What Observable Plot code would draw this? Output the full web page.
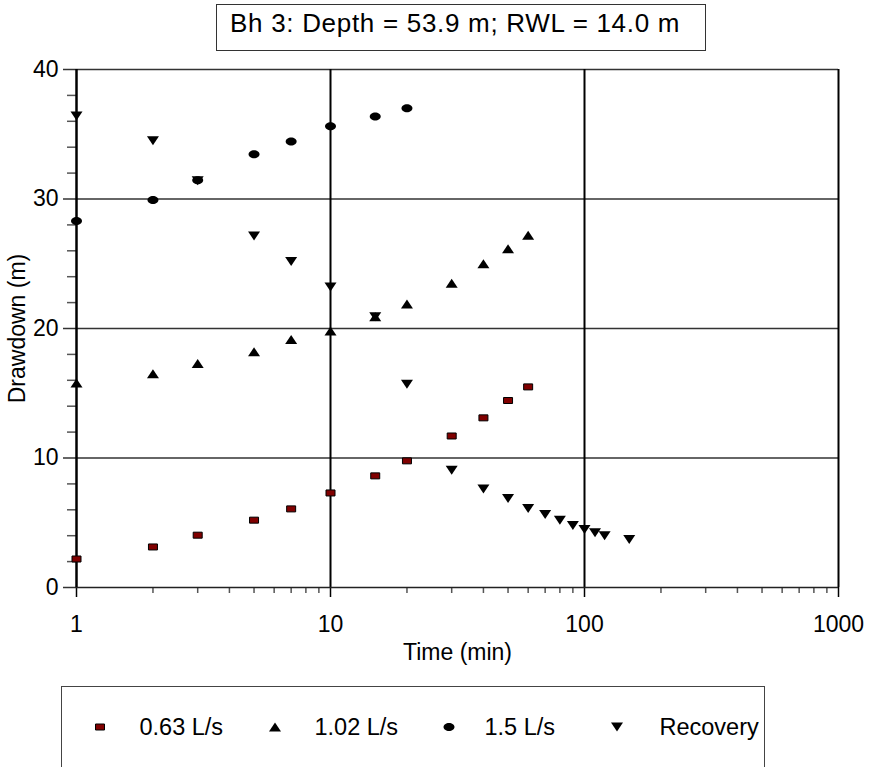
<!DOCTYPE html>
<html>
<head>
<meta charset="utf-8">
<script src="https://cdn.jsdelivr.net/npm/d3@7"></script>
<script src="https://cdn.jsdelivr.net/npm/@observablehq/plot@0.6"></script>
<style>
  html, body { margin: 0; padding: 0; background: white; }
  #wrap { position: relative; width: 869px; height: 767px; overflow: hidden; background: white;
          font-family: "Liberation Sans", Arial, Helvetica, sans-serif; color: black; }
  #title { position: absolute; left: 216px; top: 4px; width: 488px; height: 45px;
           border: 1px solid #333; box-sizing: content-box; }
  #title span { position: absolute; left: 13px; top: 5px; text-align: left;
                font-size: 26px; line-height: 26px; letter-spacing: 0.7px; white-space: nowrap; }
  #legend { position: absolute; left: 61px; top: 686px; width: 702px; height: 100px;
            border: 1.5px solid #444; }
  .lg-text { position: absolute; font-size: 23.5px; line-height: 23.5px; white-space: nowrap; }
  .lg-mark { position: absolute; width: 16px; height: 16px; }
  #chart { position: absolute; left: 0; top: 0; }
</style>
</head>
<body>
<div id="wrap">
  <div id="chart"></div>
  <div id="title"><span></span></div>
  <div id="legend"></div>
</div>
<script>
// ---- data ----
const titleText = "Bh 3: Depth = 53.9 m; RWL = 14.0 m";
const xLabel = "Time (min)";
const yLabel = "Drawdown (m)";

const seriesNames = ["0.63 L/s", "1.02 L/s", "1.5 L/s", "Recovery"];

const timesA = [1, 2, 3, 5, 7, 10, 15, 20, 30, 40, 50, 60];
const flow063 = [2.2, 3.13, 4.04, 5.2, 6.07, 7.3, 8.62, 9.78, 11.7, 13.1, 14.44, 15.49];

const timesB = [1, 2, 3, 5, 7, 10, 15, 20, 30, 40, 50, 60];
const flow102 = [15.8, 16.5, 17.3, 18.2, 19.15, 19.8, 20.9, 21.9, 23.5, 25.0, 26.15, 27.2];

const timesC = [1, 2, 3, 5, 7, 10, 15, 20];
const flow15 = [28.3, 29.93, 31.45, 33.46, 34.44, 35.62, 36.37, 37.0];

const timesR = [1, 2, 3, 5, 7, 10, 15, 20, 30, 40, 50, 60, 70, 80, 90, 100, 110, 120, 150];
const recovery = [36.4, 34.5, 31.4, 27.15, 25.17, 23.2, 20.9, 15.7, 9.06, 7.6, 6.87, 6.1, 5.64, 5.2, 4.79, 4.48, 4.22, 4.0, 3.7];

const xMajorTicks = [1, 10, 100, 1000];
const xMinorTicks = [2,3,4,5,6,7,8,9,20,30,40,50,60,70,80,90,200,300,400,500,600,700,800,900];
const yMajorTicks = [0, 10, 20, 30, 40];
const yMinorTicks = [2,4,6,8,12,14,16,18,22,24,26,28,32,34,36,38];
const xGrid = [10, 100, 1000];
const yGrid = [10, 20, 30, 40];

// ---- symbols ----
const K = 0.5523;
const rectSym = {draw(c) { c.moveTo(-4.5, -3); c.lineTo(4.5, -3); c.lineTo(4.5, 3); c.lineTo(-4.5, 3); c.closePath(); }};
const ellipseSym = {draw(c) {
  const rx = 5.5, ry = 4;
  c.moveTo(rx, 0);
  c.bezierCurveTo(rx, K*ry, K*rx, ry, 0, ry);
  c.bezierCurveTo(-K*rx, ry, -rx, K*ry, -rx, 0);
  c.bezierCurveTo(-rx, -K*ry, -K*rx, -ry, 0, -ry);
  c.bezierCurveTo(K*rx, -ry, rx, -K*ry, rx, 0);
  c.closePath();
}};
const triUp = {draw(c) { c.moveTo(0, -4.5); c.lineTo(6, 4.5); c.lineTo(-6, 4.5); c.closePath(); }};
const triDown = {draw(c) { c.moveTo(0, 4.5); c.lineTo(6, -4.5); c.lineTo(-6, -4.5); c.closePath(); }};

const rows = (ts, vs) => ts.map((t, i) => ({t, v: vs[i]}));

const font = '"Liberation Sans", Arial, Helvetica, sans-serif';

const plot = Plot.plot({
  width: 869,
  height: 680,
  marginTop: 69,
  marginLeft: 76,
  marginRight: 31,
  marginBottom: 93,
  x: {type: "log", domain: [1, 1000]},
  y: {domain: [0, 40]},
  style: {fontFamily: font, fontSize: "23px", background: "transparent", color: "black"},
  marks: [
    Plot.ruleY(yGrid, {stroke: "#333", strokeWidth: 1.5}),
    Plot.ruleX(xGrid, {stroke: "#000", strokeWidth: 2}),
    Plot.axisY({ticks: yMinorTicks, tickSize: 9, text: null, stroke: "#555", strokeWidth: 1.5, label: null}),
    Plot.axisY({ticks: yMajorTicks, tickSize: 13, tickPadding: 5, stroke: "#333", strokeWidth: 1.5,
                fontSize: 23, label: yLabel, labelAnchor: "center", labelOffset: 68, labelArrow: "none"}),
    Plot.axisX({ticks: xMinorTicks, tickSize: 6, text: null, stroke: "#555", strokeWidth: 1.5, label: null}),
    Plot.axisX({ticks: xMajorTicks, tickSize: 10, tickPadding: 18, stroke: "#000", strokeWidth: 1.5,
                tickFormat: d => String(d), fontSize: 23,
                label: xLabel, labelAnchor: "center", labelOffset: 72, labelArrow: "none"}),
    Plot.ruleY([0], {stroke: "#222", strokeWidth: 1.5}),
    Plot.ruleX([1], {stroke: "#000", strokeWidth: 2.5}),
    Plot.dot(rows(timesA, flow063), {x: "t", y: "v", symbol: rectSym, fill: "#800000", stroke: "#000", strokeWidth: 1}),
    Plot.dot(rows(timesB, flow102), {x: "t", y: "v", symbol: triUp, fill: "#000", stroke: "none"}),
    Plot.dot(rows(timesC, flow15), {x: "t", y: "v", symbol: ellipseSym, fill: "#000", stroke: "none"}),
    Plot.dot(rows(timesR, recovery), {x: "t", y: "v", symbol: triDown, fill: "#000", stroke: "none"})
  ]
});
document.getElementById("chart").appendChild(plot);

document.querySelector("#title span").textContent = titleText;

// ---- legend ----
const legendSymbols = [
  {sym: rectSym, fill: "#800000", stroke: "#000"},
  {sym: triUp, fill: "#000", stroke: "none"},
  {sym: ellipseSym, fill: "#000", stroke: "none"},
  {sym: triDown, fill: "#000", stroke: "none"}
];
const legendMarkX = [100, 275, 449, 617];
const legendTextX = [140, 315, 485, 660];
const legend = document.getElementById("legend");
const lx = 61 + 1.5, ly = 686 + 1.5;
seriesNames.forEach((name, i) => {
  const s = legendSymbols[i];
  const svg = d3.create("svg").attr("class", "lg-mark").attr("width", 16).attr("height", 16)
    .attr("viewBox", "-8 -8 16 16")
    .style("left", (legendMarkX[i] - 8 - lx) + "px").style("top", (727 - 8 - ly) + "px");
  svg.append("path").attr("d", d3.symbol(s.sym, 64)()).attr("fill", s.fill).attr("stroke", s.stroke);
  legend.appendChild(svg.node());
  const t = document.createElement("div");
  t.className = "lg-text";
  t.textContent = name;
  t.style.left = (legendTextX[i] - lx) + "px";
  t.style.top = (716 - ly) + "px";
  legend.appendChild(t);
});
</script>
</body>
</html>
